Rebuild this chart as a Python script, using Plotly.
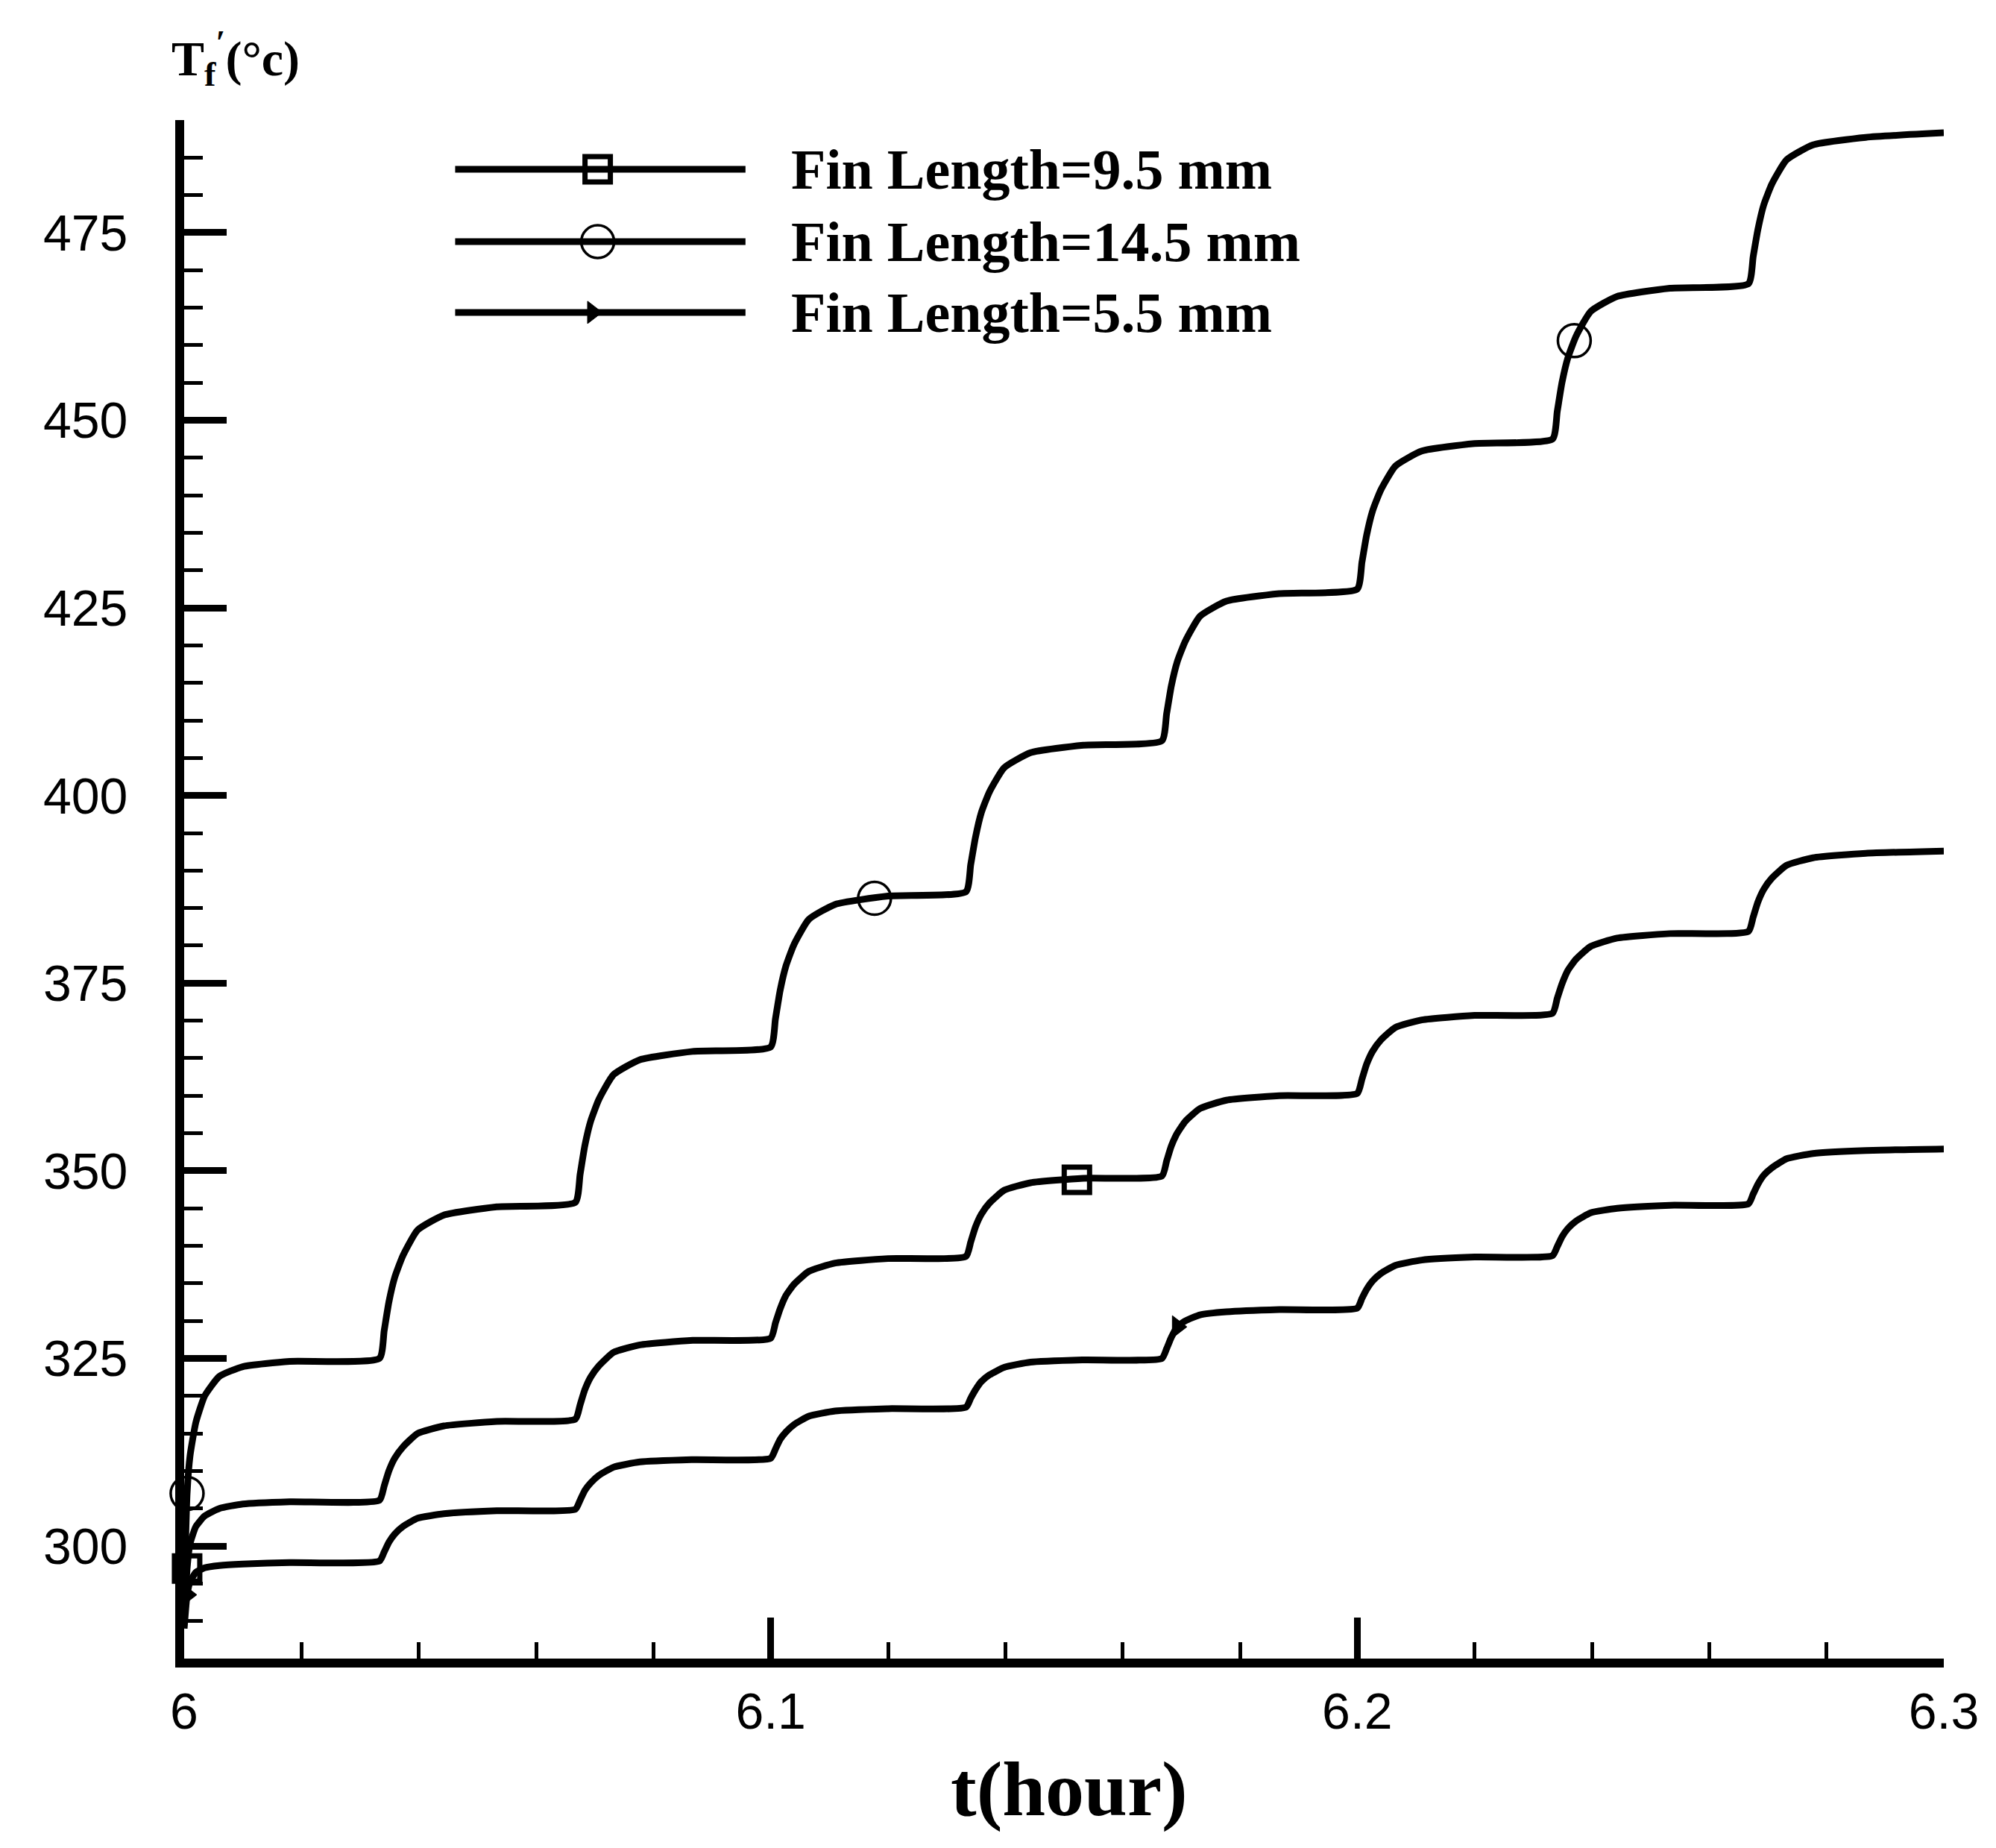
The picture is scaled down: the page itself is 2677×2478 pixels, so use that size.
import plotly.graph_objects as go

# Time axis (hours) shared by the three fin-length runs
t_hours = [
    6.0000, 6.0005, 6.0010, 6.0020, 6.0035, 6.0060, 6.0100, 6.0180,
    6.0333, 6.0341, 6.0349, 6.0359, 6.0373, 6.0398, 6.0443, 6.0533,
    6.0667, 6.0675, 6.0683, 6.0693, 6.0707, 6.0732, 6.0777, 6.0867,
    6.1000, 6.1008, 6.1016, 6.1026, 6.1040, 6.1065, 6.1110, 6.1200,
    6.1333, 6.1341, 6.1349, 6.1359, 6.1373, 6.1398, 6.1443, 6.1533,
    6.1667, 6.1675, 6.1683, 6.1693, 6.1707, 6.1732, 6.1777, 6.1867,
    6.2000, 6.2008, 6.2016, 6.2026, 6.2040, 6.2065, 6.2110, 6.2200,
    6.2333, 6.2341, 6.2349, 6.2359, 6.2373, 6.2398, 6.2443, 6.2533,
    6.2667, 6.2675, 6.2683, 6.2693, 6.2707, 6.2732, 6.2777, 6.2867,
    6.3000,
]

# Fin temperature T_f' (deg C) for each fin length
temp_fin_9_5 = [
    290.0, 297.0, 300.3, 302.6, 304.0, 305.0, 305.6, 305.9,
    306.1, 308.0, 310.0, 311.7, 313.2, 315.0, 316.0, 316.6,
    316.9, 318.8, 320.8, 322.5, 324.0, 325.8, 326.8, 327.4,
    327.7, 329.7, 331.6, 333.4, 334.9, 336.6, 337.7, 338.3,
    338.6, 340.5, 342.5, 344.2, 345.7, 347.4, 348.4, 349.0,
    349.3, 351.3, 353.3, 355.0, 356.6, 358.3, 359.4, 360.0,
    360.3, 362.2, 364.2, 365.9, 367.4, 369.1, 370.1, 370.7,
    371.0, 373.0, 374.9, 376.7, 378.2, 379.9, 381.0, 381.6,
    381.9, 383.8, 385.8, 387.5, 389.0, 390.7, 391.7, 392.3,
    392.6,
]

temp_fin_14_5 = [
    293.0, 307.0, 312.0, 316.5, 320.0, 322.6, 323.9, 324.6,
    325.0, 328.7, 332.5, 335.8, 338.7, 342.1, 344.1, 345.2,
    345.8, 349.5, 353.3, 356.6, 359.5, 362.8, 364.8, 365.9,
    366.5, 370.2, 374.0, 377.3, 380.2, 383.5, 385.5, 386.6,
    387.2, 390.8, 394.4, 397.7, 400.5, 403.7, 405.7, 406.7,
    407.3, 410.9, 414.6, 417.8, 420.6, 423.9, 425.9, 426.9,
    427.5, 431.1, 434.7, 437.9, 440.7, 443.9, 445.9, 446.9,
    447.5, 451.2, 455.0, 458.3, 461.2, 464.5, 466.5, 467.6,
    468.2, 471.8, 475.4, 478.7, 481.5, 484.7, 486.7, 487.7,
    488.3,
]

temp_fin_5_5 = [
    289.0, 293.5, 295.2, 296.5, 297.1, 297.4, 297.6, 297.8,
    298.0, 299.2, 300.5, 301.6, 302.6, 303.7, 304.3, 304.7,
    304.9, 306.1, 307.4, 308.4, 309.4, 310.5, 311.2, 311.5,
    311.7, 312.9, 314.2, 315.2, 316.2, 317.3, 318.0, 318.3,
    318.5, 319.7, 320.8, 321.9, 322.8, 323.8, 324.5, 324.8,
    325.0, 326.3, 327.8, 329.2, 330.0, 330.8, 331.2, 331.5,
    331.7, 333.0, 334.2, 335.3, 336.3, 337.4, 338.1, 338.5,
    338.7, 339.9, 341.2, 342.3, 343.3, 344.4, 345.0, 345.4,
    345.6, 346.9, 348.2, 349.4, 350.4, 351.6, 352.3, 352.7,
    352.9,
]

# Symbol positions along each curve
mark_t_9_5 = [6.0005, 6.1522]
mark_T_9_5 = [297.0, 348.8]
mark_t_14_5 = [6.0005, 6.1177, 6.2370]
mark_T_14_5 = [307.0, 386.3, 460.6]
mark_t_5_5 = [6.0005, 6.1693]
mark_T_5_5 = [293.5, 329.2]

series_labels = ["Fin Length=9.5 mm", "Fin Length=14.5 mm", "Fin Length=5.5 mm"]

x_ticks = [6.0, 6.1, 6.2, 6.3]
x_tick_text = ["6", "6.1", "6.2", "6.3"]
y_ticks = [300, 325, 350, 375, 400, 425, 450, 475]

INK = "black"
LINE_W = 9
SERIF = "Liberation Serif, Times New Roman, serif"
SANS = "Liberation Sans, Arial, sans-serif"

symbol_styles = [
    dict(symbol="square-open", size=34, color=INK, line=dict(color=INK, width=7)),
    dict(symbol="circle-open", size=44, color=INK, line=dict(color=INK, width=3.5)),
    dict(symbol="triangle-right", size=26, color=INK, line=dict(color=INK, width=1)),
]

curves = [
    (temp_fin_9_5, mark_t_9_5, mark_T_9_5),
    (temp_fin_14_5, mark_t_14_5, mark_T_14_5),
    (temp_fin_5_5, mark_t_5_5, mark_T_5_5),
]

fig = go.Figure()

for (temps, mt, mT), label, sym in zip(curves, series_labels, symbol_styles):
    fig.add_trace(go.Scatter(
        x=t_hours, y=temps, mode="lines", name=label,
        line=dict(color=INK, width=LINE_W, shape="spline", smoothing=0.5),
        showlegend=False,
    ))
    fig.add_trace(go.Scatter(
        x=mt, y=mT, mode="markers", name=label,
        marker=sym, showlegend=False, cliponaxis=False,
    ))

# Legend keys drawn on an overlay axis spanning the plot area
key_rows = [0.968, 0.921, 0.875]
key_x = [0.154, 0.319]
key_sym_x = [0.235, 0.235, 0.232]
key_text_x = 0.344

for row, label, sym, sx in zip(key_rows, series_labels, symbol_styles, key_sym_x):
    fig.add_trace(go.Scatter(
        x=key_x, y=[row, row], mode="lines", xaxis="x2", yaxis="y2",
        line=dict(color=INK, width=LINE_W), showlegend=False, hoverinfo="skip",
    ))
    fig.add_trace(go.Scatter(
        x=[sx], y=[row], mode="markers", xaxis="x2", yaxis="y2",
        marker=sym, showlegend=False, hoverinfo="skip", cliponaxis=False,
    ))
    fig.add_annotation(
        x=key_text_x, y=row, xref="x2", yref="y2", text=label,
        showarrow=False, xanchor="left", yanchor="middle",
        font=dict(family=SERIF, size=76, color=INK, weight="bold"),
    )

fig.update_layout(
    width=2677, height=2478,
    margin=dict(l=247, r=70, t=161, b=254, pad=0),
    paper_bgcolor="white", plot_bgcolor="white",
    showlegend=False,
    font=dict(family=SANS, color=INK),
    xaxis=dict(
        range=[6.0, 6.3], tickvals=x_ticks, ticktext=x_tick_text,
        showgrid=False, zeroline=False,
        showline=True, linecolor=INK, linewidth=12,
        ticks="inside", ticklen=55, tickwidth=9, tickcolor=INK,
        minor=dict(dtick=0.02, tick0=6.0, ticks="inside", ticklen=22,
                   tickwidth=5, tickcolor=INK, showgrid=False),
        tickfont=dict(family=SANS, size=68, color=INK),
        ticklabelstandoff=0,
    ),
    yaxis=dict(
        range=[285, 490], tickvals=y_ticks,
        showgrid=False, zeroline=False,
        showline=True, linecolor=INK, linewidth=12,
        ticks="inside", ticklen=57, tickwidth=9, tickcolor=INK,
        minor=dict(dtick=5, tick0=300, ticks="inside", ticklen=25,
                   tickwidth=5, tickcolor=INK, showgrid=False),
        tickfont=dict(family=SANS, size=68, color=INK),
        ticklabelstandoff=50,
    ),
    xaxis2=dict(overlaying="x", range=[0, 1], visible=False, fixedrange=True),
    yaxis2=dict(overlaying="y", range=[0, 1], visible=False, fixedrange=True),
)

# Axis titles
fig.add_annotation(
    x=0.503, y=-0.085, xref="paper", yref="paper",
    text="t(hour)", showarrow=False, xanchor="center", yanchor="middle",
    font=dict(family=SERIF, size=104, color=INK, weight="bold"),
)
fig.add_annotation(
    x=-0.008, y=1.040, xref="paper", yref="paper",
    text="T<sub>f</sub><sup>′</sup>(°c)", showarrow=False,
    xanchor="left", yanchor="middle",
    font=dict(family=SERIF, size=66, color=INK, weight="bold"),
)

fig.write_html("out.html")
